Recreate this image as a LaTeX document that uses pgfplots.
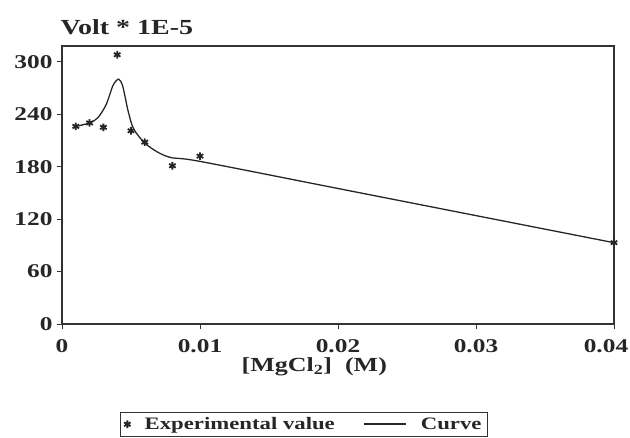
\documentclass[border=0pt]{standalone}
\usepackage{fontspec}
\setmainfont{Liberation Serif}[FakeStretch=1.3]
\usepackage{pgfplots}
\pgfplotsset{compat=1.18}
\begin{document}
\begin{tikzpicture}
\useasboundingbox (-62pt,-113pt) rectangle (568pt,324pt);
\begin{axis}[
  scale only axis,
  width=552pt, height=278pt,
  xmin=0, xmax=0.04, ymin=0, ymax=318,
  xtick={0,0.01,0.02,0.03,0.04},
  xticklabels={0,0.01,0.02,0.03,{\hspace*{-16pt}0.04}},
  ytick={0,60,120,180,240,300},
  scaled x ticks=false,
  xtick pos=left, ytick pos=left,
  tick align=outside,
  major tick length=5pt,
  axis line style={line width=1.1pt, black!80},
  tick style={line width=0.9pt, black!80},
  /pgf/number format/assume math mode=true,
  tick label style={font=\fontsize{19.5}{19.5}\selectfont\bfseries, text=black!85},
  xticklabel style={yshift=-7pt},
  yticklabel style={xshift=-1pt},
  clip=false,
  legend style={draw=black!80, line width=0.9pt, at={(0.438,-0.3165)}, anchor=north,
    font=\fontsize{17.5}{17.5}\selectfont\bfseries, text=black!85,
    inner xsep=4pt, inner ysep=3pt},
  legend columns=2,
  /tikz/every even column/.append style={column sep=26pt},
  /tikz/every odd column/.append style={column sep=12pt},
  legend cell align=left,
]
\addplot[only marks, mark=asterisk, mark size=3.8pt, black!85, mark options={line width=1.8pt}]
  coordinates {
  (0.001,226) (0.002,230) (0.003,225) (0.004,308) (0.005,221)
  (0.006,208) (0.008,181) (0.010,192) (0.040,93)
  };
\addlegendentry{Experimental value}
\addplot[smooth, tension=0.5, line width=1.3pt, black!85,
  legend image code/.code={\draw[line width=2pt] (0pt,0pt) -- (42pt,0pt);}]
  coordinates {
  (0.001,226) (0.002,230) (0.0026,236) (0.0032,251) (0.0037,273)
  (0.0041,280) (0.0044,272) (0.0048,243) (0.0052,223) (0.006,207)
  (0.007,196) (0.008,190) (0.010,186) (0.020,155) (0.030,124) (0.040,93)
  };
\addlegendentry{Curve}
\node[anchor=base west, font=\fontsize{21.5}{21.5}\selectfont\bfseries, text=black!85]
  at (rel axis cs:-0.009,1.04) {Volt * 1E-5};
\node[anchor=base, font=\fontsize{20}{20}\selectfont\bfseries, text=black!85]
  at (rel axis cs:0.457,-0.172) {[MgCl\textsubscript{2}]\ \ (M)};
\end{axis}
\end{tikzpicture}
\end{document}
